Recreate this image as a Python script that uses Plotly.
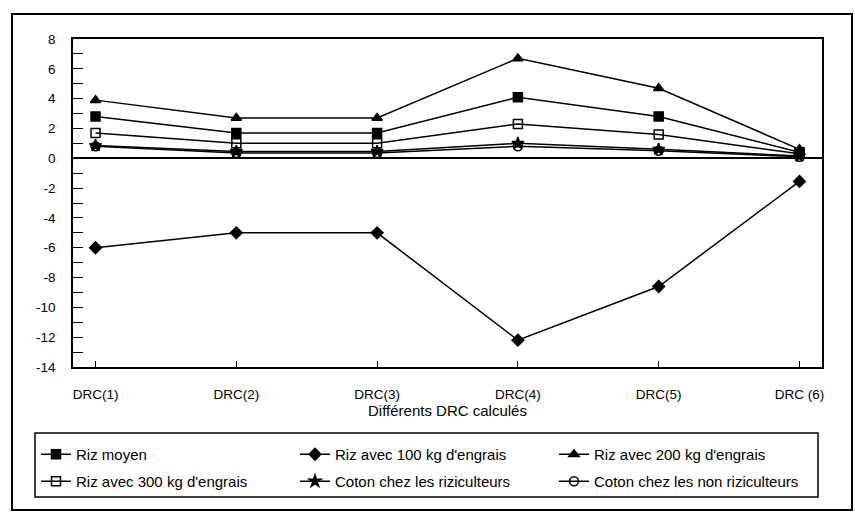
import plotly.graph_objects as go

# categories on the x axis
drc = ["DRC(1)", "DRC(2)", "DRC(3)", "DRC(4)", "DRC(5)", "DRC (6)"]

# series values
riz_moyen = [2.8, 1.7, 1.7, 4.1, 2.8, 0.4]
riz_100 = [-6.0, -5.0, -5.0, -12.2, -8.6, -1.55]
riz_200 = [3.9, 2.7, 2.7, 6.7, 4.7, 0.6]
riz_300 = [1.7, 1.0, 1.0, 2.3, 1.6, 0.3]
coton_riz = [0.85, 0.45, 0.45, 1.0, 0.6, 0.15]
coton_non_riz = [0.8, 0.35, 0.35, 0.8, 0.5, 0.1]

# y ticks (plain hyphen minus as in the original)
y_ticks = list(range(-14, 9, 2))
y_ticktext = [str(v) for v in y_ticks]

series = [
    ("Riz moyen", riz_moyen, "square", "legend"),
    ("Riz avec 100 kg d'engrais", riz_100, "diamond", "legend"),
    ("Riz avec 200 kg d'engrais", riz_200, "triangle-up", "legend"),
    ("Riz avec 300 kg d'engrais", riz_300, "square-open", "legend2"),
    ("Coton chez les riziculteurs", coton_riz, "star", "legend2"),
    ("Coton chez les non riziculteurs", coton_non_riz, "circle-open", "legend2"),
]

font = "Liberation Sans, Arial, sans-serif"

# pixel helpers for paper coords (plot area 73..822 x 39..367)
def px(x):
    return (x - 73) / 749

def py(y):
    return (367 - y) / 328

fig = go.Figure()
for name, vals, sym, leg in series:
    fig.add_trace(go.Scatter(
        x=drc, y=vals, name=name, mode="lines+markers", legend=leg,
        line=dict(color="black", width=1.5),
        marker=dict(symbol=sym, size=9, color="black",
                    line=dict(color="black", width=1.5)),
    ))

legend_common = dict(
    orientation="h", xanchor="left", yanchor="top",
    bgcolor="rgba(0,0,0,0)", borderwidth=0, entrywidth=214,
    font=dict(size=15, family=font), itemwidth=30,
)

fig.update_layout(
    width=855, height=512,
    paper_bgcolor="white", plot_bgcolor="white",
    margin=dict(l=73, r=33, t=39, b=145),
    font=dict(family=font, size=13.5, color="black"),
    showlegend=True,
    legend=dict(x=px(36), y=py(438), **legend_common),
    legend2=dict(x=px(36), y=py(465), **legend_common),
    xaxis=dict(
        range=[-0.16, 5.16], showline=True, linecolor="black", linewidth=1.5,
        mirror=True, ticks="inside", ticklen=6, tickcolor="black",
        showgrid=False, zeroline=False, ticklabelstandoff=14,
        title=dict(text="Différents DRC calculés", standoff=4, font=dict(size=15)),
    ),
    yaxis=dict(
        range=[-14, 8], tickvals=y_ticks, ticktext=y_ticktext,
        showline=True, linecolor="black", linewidth=1.5,
        mirror=True, ticks="inside", ticklen=10, tickcolor="black",
        minor=dict(dtick=1, ticks="inside", ticklen=10, tickcolor="black"),
        showgrid=False, zeroline=True, zerolinecolor="black", zerolinewidth=1.5,
        ticklabelstandoff=13,
    ),
    shapes=[
        # outer frame
        dict(type="rect", xref="paper", yref="paper",
             x0=px(12), x1=px(852), y0=py(510), y1=py(14),
             line=dict(color="black", width=2)),
        # legend box
        dict(type="rect", xref="paper", yref="paper",
             x0=px(35), x1=px(818), y0=py(497), y1=py(433),
             line=dict(color="black", width=1.5)),
    ],
)

fig.write_html("out.html", config={"displayModeBar": False},
               post_script="document.body.style.margin='0';")
